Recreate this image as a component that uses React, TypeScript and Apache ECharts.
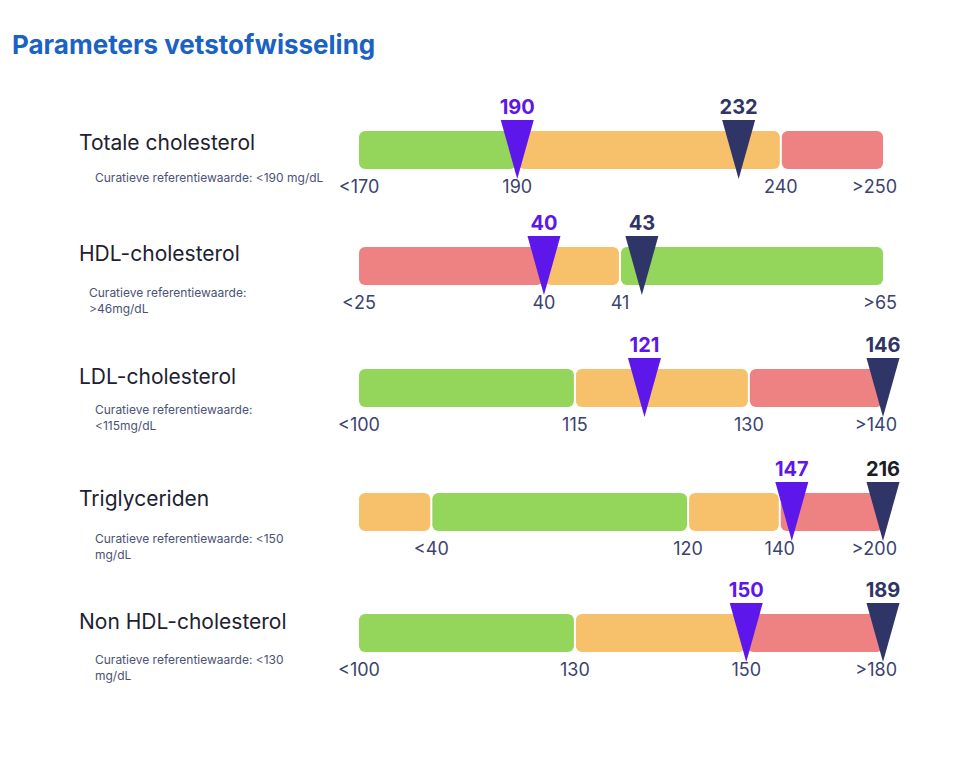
import React, { useEffect, useRef } from "react";
import * as echarts from "echarts";

// ---------- data ----------
const TITLE = "Parameters vetstofwisseling";
const parameterNames = [
  "Totale cholesterol",
  "HDL-cholesterol",
  "LDL-cholesterol",
  "Triglyceriden",
  "Non HDL-cholesterol",
];
const referenceNotes = [
  ["Curatieve referentiewaarde: <190 mg/dL"],
  ["Curatieve referentiewaarde:", ">46mg/dL"],
  ["Curatieve referentiewaarde:", "<115mg/dL"],
  ["Curatieve referentiewaarde: <150", "mg/dL"],
  ["Curatieve referentiewaarde: <130", "mg/dL"],
];
// zone boundaries (mg/dL) per parameter
const zoneBounds = [
  [170, 190, 240, 250],
  [25, 40, 41, 65],
  [100, 115, 130, 140],
  [0, 40, 120, 140, 200],
  [100, 130, 150, 180],
];
const boundLabels = [
  ["<170", "190", "240", ">250"],
  ["<25", "40", "41", ">65"],
  ["<100", "115", "130", ">140"],
  ["", "<40", "120", "140", ">200"],
  ["<100", "130", "150", ">180"],
];
const zoneKinds = [
  ["good", "warn", "bad"],
  ["bad", "warn", "good"],
  ["good", "warn", "bad"],
  ["warn", "good", "warn", "bad"],
  ["good", "warn", "bad"],
];
const referenceValues = [190, 40, 121, 147, 150];
const patientValues = [232, 43, 146, 216, 189];

// ---------- layout / style ----------
// relative position (0..1) of every zone boundary along the bar
const boundPos = [
  [0, 0.302, 0.805, 1],
  [0, 0.353, 0.498, 1],
  [0, 0.412, 0.744, 1],
  [0, 0.138, 0.628, 0.803, 1],
  [0, 0.412, 0.739, 1],
];
const rowBarTops = [131, 247, 369, 493, 614];
const rowNameY = [142, 253, 376, 498, 621];
const rowNoteX = [95, 89, 95, 95, 95];
const rowNoteY = [177, 292, 409, 538, 659];
const BAR_LEFT = 359;
const BAR_WIDTH = 524;
const BAR_HEIGHT = 38;
const zoneColors: Record<string, string> = {
  good: "#93d65b",
  warn: "#f7c16b",
  bad: "#ee8282",
};
const REF_COLOR = "#5e17eb";
const PAT_COLOR = "#2f3566";
const patientLabelColors = ["#2f3566", "#2f3566", "#2f3566", "#1d1d26", "#2f3566"];
const FONT = "Inter, 'Noto Sans', sans-serif";

function toFrac(row: number, v: number) {
  const b = zoneBounds[row];
  const p = boundPos[row];
  if (v <= b[0]) return p[0];
  for (let i = 1; i < b.length; i++) {
    if (v <= b[i]) {
      return p[i - 1] + ((v - b[i - 1]) / (b[i] - b[i - 1])) * (p[i] - p[i - 1]);
    }
  }
  return p[p.length - 1];
}

function buildOption() {
  const grid: any[] = [];
  const xAxis: any[] = [];
  const yAxis: any[] = [];
  const series: any[] = [];
  const graphic: any[] = [];

  graphic.push({
    type: "text",
    x: 12,
    y: 44,
    style: {
      text: TITLE,
      font: `bold 26px ${FONT}`,
      fill: "#1a62c4",
      textVerticalAlign: "middle",
      verticalAlign: "middle",
    },
  });

  parameterNames.forEach((name, r) => {
    grid.push({
      left: BAR_LEFT,
      width: BAR_WIDTH,
      top: rowBarTops[r],
      height: BAR_HEIGHT,
      containLabel: false,
    });
    xAxis.push({ type: "value", gridIndex: r, min: 0, max: 1, show: false });
    yAxis.push({ type: "value", gridIndex: r, min: 0, max: 1, show: false });

    graphic.push({
      type: "text",
      x: 79,
      y: rowNameY[r],
      style: {
        text: name,
        font: `400 21px ${FONT}`,
        fill: "#1d2130",
        textVerticalAlign: "middle",
        verticalAlign: "middle",
      },
    });
    referenceNotes[r].forEach((line, li) => {
      graphic.push({
        type: "text",
        x: rowNoteX[r],
        y: rowNoteY[r] + li * 16,
        style: {
          text: line,
          font: `400 12px ${FONT}`,
          fill: "#4b5275",
          textVerticalAlign: "middle",
          verticalAlign: "middle",
        },
      });
    });

    const b = zoneBounds[r];
    const kinds = zoneKinds[r];
    const nZones = kinds.length;

    // zones
    series.push({
      type: "custom",
      xAxisIndex: r,
      yAxisIndex: r,
      clip: false,
      z: 1,
      data: kinds.map((k, i) => [b[i], b[i + 1], i]),
      renderItem: (params: any, api: any) => {
        const s = toFrac(r, api.value(0));
        const e = toFrac(r, api.value(1));
        const idx = api.value(2);
        const p0 = api.coord([s, 1]);
        const p1 = api.coord([e, 0]);
        const x0 = p0[0] + (idx === 0 ? 0 : 1);
        const x1 = p1[0] - (idx === nZones - 1 ? 0 : 1);
        return {
          type: "rect",
          shape: { x: x0, y: p0[1], width: x1 - x0, height: p1[1] - p0[1], r: 6 },
          style: { fill: zoneColors[kinds[idx]] },
        };
      },
    });

    // boundary labels
    series.push({
      type: "custom",
      xAxisIndex: r,
      yAxisIndex: r,
      clip: false,
      z: 2,
      data: b.map((v, i) => [v, 0, i]),
      renderItem: (params: any, api: any) => {
        const idx = api.value(2);
        const txt = boundLabels[r][idx];
        const p = api.coord([toFrac(r, api.value(0)), 0]);
        const isLast = idx === b.length - 1;
        return {
          type: "text",
          x: isLast ? p[0] + 14 : p[0],
          y: p[1] + 17,
          style: {
            text: txt,
            font: `400 18px ${FONT}`,
            fill: "#3b4270",
            textAlign: isLast ? "right" : "center",
            align: isLast ? "right" : "center",
            textVerticalAlign: "middle",
            verticalAlign: "middle",
          },
        };
      },
    });

    // markers: reference value and patient value
    series.push({
      type: "custom",
      xAxisIndex: r,
      yAxisIndex: r,
      clip: false,
      z: 3,
      data: [
        [referenceValues[r], 0, 0],
        [patientValues[r], 0, 1],
      ],
      renderItem: (params: any, api: any) => {
        const v = api.value(0);
        const kind = api.value(2);
        const x = api.coord([toFrac(r, v), 0])[0];
        const top = api.coord([0, 1])[1];
        const bottom = api.coord([0, 0])[1];
        const fill = kind === 0 ? REF_COLOR : PAT_COLOR;
        const labelFill = kind === 0 ? REF_COLOR : patientLabelColors[r];
        return {
          type: "group",
          children: [
            {
              type: "polygon",
              shape: {
                points: [
                  [x - 16.5, top - 11],
                  [x + 16.5, top - 11],
                  [x, bottom + 10],
                ],
              },
              style: { fill },
            },
            {
              type: "text",
              x,
              y: top - 24,
              style: {
                text: String(v),
                font: `bold 20px ${FONT}`,
                fill: labelFill,
                textAlign: "center",
                align: "center",
                textVerticalAlign: "middle",
                verticalAlign: "middle",
              },
            },
          ],
        };
      },
    });
  });

  return {
    animation: false,
    backgroundColor: "#ffffff",
    grid,
    xAxis,
    yAxis,
    series,
    graphic,
  };
}

export default function App() {
  const ref = useRef<HTMLDivElement>(null);
  useEffect(() => {
    if (!ref.current) return;
    const chart = echarts.init(ref.current, null, { renderer: "svg" });
    chart.setOption(buildOption() as any);
    return () => chart.dispose();
  }, []);
  return (
    <div
      ref={ref}
      style={{ position: "absolute", left: 0, top: 0, width: 968, height: 760 }}
    />
  );
}
